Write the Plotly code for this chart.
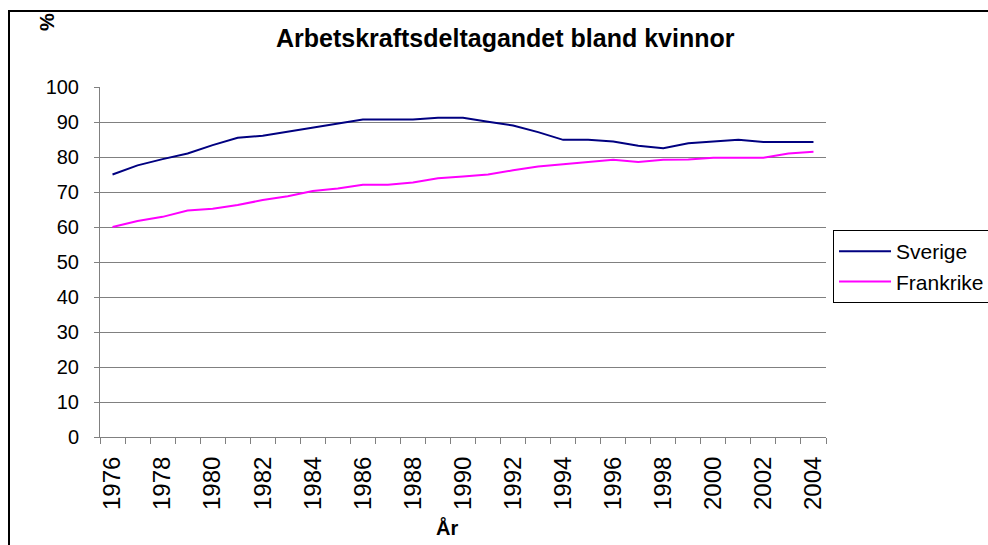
import plotly.graph_objects as go

years = list(range(1976, 2005))
sverige = [75.0, 77.6, 79.4, 81.0, 83.4, 85.5, 86.1, 87.2, 88.4, 89.6,
           90.7, 90.7, 90.7, 91.2, 91.2, 90.1, 89.0, 87.1, 84.9, 84.9,
           84.4, 83.2, 82.5, 83.9, 84.4, 84.9, 84.3, 84.3, 84.3]
frankrike = [60.0, 61.7, 62.9, 64.7, 65.2, 66.3, 67.7, 68.8, 70.3, 71.0,
             72.1, 72.1, 72.7, 73.9, 74.4, 75.0, 76.2, 77.3, 77.9, 78.6,
             79.2, 78.6, 79.2, 79.3, 79.8, 79.8, 79.8, 81.0, 81.5]
tick_years = [y for y in years if y % 2 == 0]
y_ticks = list(range(0, 101, 10))

FONT = "Liberation Sans, Arial, sans-serif"
W, H = 988, 545
L, R, T, B = 100, 826, 87, 437

fig = go.Figure()
fig.add_trace(go.Scatter(x=years, y=sverige, mode="lines", name="Sverige",
                         line=dict(color="#000080", width=2)))
fig.add_trace(go.Scatter(x=years, y=frankrike, mode="lines", name="Frankrike",
                         line=dict(color="#FF00FF", width=2)))

def px_x(p):
    return (p - L) / (R - L)

def px_y(p):
    return (B - p) / (B - T)

border = dict(color="black", width=2)

fig.update_layout(
    width=W, height=H,
    margin=dict(l=L, r=W - R, t=T, b=H - B, autoexpand=False),
    paper_bgcolor="white", plot_bgcolor="white",
    font=dict(family=FONT, color="black"),
    showlegend=True,
    legend=dict(x=px_x(833), y=px_y(230), xanchor="left", yanchor="top",
                bordercolor="#000000", borderwidth=1,
                font=dict(size=21, family=FONT), bgcolor="white",
                itemwidth=52, tracegroupgap=0),
    xaxis=dict(range=[1975.5, 2004.5], tickmode="array", tickvals=tick_years,
               ticktext=[str(y) for y in tick_years], tickangle=-90,
               ticks="", showgrid=False, showline=True, linecolor="#808080",
               linewidth=1, zeroline=False,
               tickfont=dict(size=24, family=FONT), ticklabelstandoff=9,
               minor=dict(tick0=1975.5, dtick=1, ticks="outside", ticklen=6,
                          tickcolor="#808080", showgrid=False)),
    yaxis=dict(range=[0, 100], tickvals=y_ticks, ticks="outside", ticklen=5,
               tickcolor="#808080", showgrid=True, gridcolor="#808080",
               gridwidth=1, showline=True, linecolor="#808080", linewidth=1,
               zeroline=False, tickfont=dict(size=20, family=FONT),
               ticklabelstandoff=11),
    shapes=[
        dict(type="line", xref="paper", yref="paper",
             x0=px_x(8), x1=px_x(1000), y0=px_y(11), y1=px_y(11),
             line=border, layer="above"),
        dict(type="line", xref="paper", yref="paper",
             x0=px_x(9), x1=px_x(9), y0=px_y(10), y1=px_y(560),
             line=border, layer="above"),
    ],
    annotations=[
        dict(text="<b>Arbetskraftsdeltagandet bland kvinnor</b>", xref="paper",
             yref="paper", x=px_x(505), y=px_y(38), showarrow=False,
             font=dict(size=25, family=FONT), xanchor="center", yanchor="middle"),
        dict(text="<b>%</b>", xref="paper", yref="paper", x=px_x(47),
             y=px_y(22), showarrow=False, textangle=-90,
             font=dict(size=20, family=FONT), xanchor="center", yanchor="middle"),
        dict(text="<b>År</b>", xref="paper", yref="paper", x=px_x(447),
             y=px_y(527), showarrow=False,
             font=dict(size=20, family=FONT), xanchor="center", yanchor="middle"),
    ],
)

fig.write_html(
    "out.html",
    config={"displayModeBar": False},
    post_script="document.body.style.margin='0';"
                "document.body.style.overflow='hidden';"
                "document.documentElement.style.overflow='hidden';",
)
